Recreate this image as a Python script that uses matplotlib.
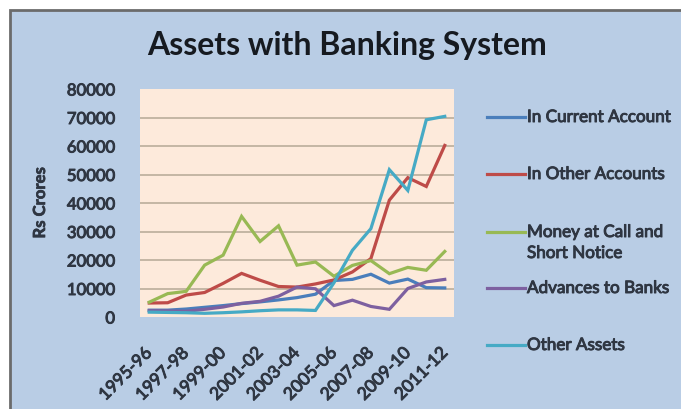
import matplotlib
matplotlib.use("Agg")
import matplotlib.pyplot as plt
from matplotlib.lines import Line2D
from matplotlib.patches import Rectangle
import matplotlib.patheffects as pe

plt.rcParams['font.family'] = ['Lato', 'DejaVu Sans']

# Fiscal years and the five asset series (Rs crores)
years = ["1995-96", "1996-97", "1997-98", "1998-99", "1999-00", "2000-01",
         "2001-02", "2002-03", "2003-04", "2004-05", "2005-06", "2006-07",
         "2007-08", "2008-09", "2009-10", "2010-11", "2011-12"]

in_current_account = [2400, 2400, 2800, 3400, 4000, 4700, 5300, 6000, 6800,
                      8000, 12800, 13200, 15000, 11900, 13300, 10300, 10200]
in_other_accounts = [4900, 5000, 7700, 8600, 11800, 15300, 12900, 10700, 10500,
                     11600, 13000, 15800, 20500, 41000, 48900, 45800, 60200]
money_at_call = [5200, 8200, 9000, 18200, 21700, 35300, 26500, 32000, 18200,
                 19300, 14300, 18100, 19800, 15200, 17400, 16400, 23000]
advances_to_banks = [2200, 2100, 2000, 2700, 3500, 4800, 5500, 7300, 10500,
                     9900, 4000, 5900, 3700, 2700, 10000, 12300, 13200]
other_assets = [1700, 1600, 1500, 1300, 1500, 1800, 2200, 2500, 2500,
                2300, 12000, 23400, 31000, 51700, 44400, 69200, 70400]

series_labels = ["In Current Account", "In Other Accounts",
                 "Money at Call and\nShort Notice", "Advances to Banks",
                 "Other Assets"]
series_values = [in_current_account, in_other_accounts, money_at_call,
                 advances_to_banks, other_assets]
series_colors = ["#4a7ebb", "#be4b48", "#98b954", "#7d60a0", "#46aac5"]

y_ticks = [0, 10000, 20000, 30000, 40000, 50000, 60000, 70000, 80000]

W, H = 681, 409
fig = plt.figure(figsize=(W / 100, H / 100), dpi=100)
fig.patch.set_facecolor("white")

# chart frame: light blue panel with a dark edge on the top and left
fig.add_artist(Rectangle((10 / W, -0.1), 1.2, 1.1 - 10 / H,
                         transform=fig.transFigure, facecolor="#b9cde5",
                         edgecolor="#6b6b6b", linewidth=2.0, zorder=0))

ax = fig.add_axes([140 / W, 1 - 317 / H, (454 - 140) / W, (317 - 89) / H])
ax.set_facecolor("#fdeadb")
for s in ax.spines.values():
    s.set_visible(False)

x = list(range(len(years)))
for vals, col in zip(series_values, series_colors):
    ax.plot(x, vals, color=col, linewidth=2.3, solid_joinstyle="miter",
            zorder=3)

ax.set_xlim(-0.5, len(years) - 0.5)
ax.set_ylim(y_ticks[0], y_ticks[-1])
ax.set_yticks(y_ticks)
ax.set_yticklabels([str(t) for t in y_ticks])
ax.yaxis.grid(True, color="#c4b6a4", linewidth=1.4, zorder=1)
ax.set_axisbelow(True)
gl = ax.get_ygridlines()
gl[0].set_visible(False)
gl[-1].set_visible(False)

tick_color = "#2f3642"
heavy = [pe.withStroke(linewidth=0.7, foreground=tick_color)]

ax.tick_params(axis="y", length=0, pad=18, labelsize=12, labelcolor=tick_color)
ax.set_xticks(x[::2])
ax.set_xticklabels(years[::2], rotation=45, ha="right", va="center",
                   rotation_mode="anchor")
ax.tick_params(axis="x", length=0, pad=24, labelsize=12.5, labelcolor=tick_color)
for lbl in ax.get_xticklabels() + ax.get_yticklabels():
    lbl.set_path_effects(heavy)

ax.set_ylabel("Rs Crores", fontsize=12, fontweight="bold", color=tick_color,
              path_effects=[pe.withStroke(linewidth=0.5, foreground=tick_color)])
ax.yaxis.set_label_coords((48 - 140) / (454 - 140), 0.5)

fig.text(347 / W, 1 - 45 / H, "Assets with Banking System", ha="center",
         va="center", fontsize=23, fontweight="bold", color="#161a20")

# legend drawn at fixed rows on the right
legend_rows = [117, 174, 232, 288, 345]
for lab, col, yy in zip(series_labels, series_colors, legend_rows):
    fig.add_artist(Line2D([487 / W, 525 / W], [1 - yy / H, 1 - yy / H],
                          transform=fig.transFigure, color=col, linewidth=2.3))
    for k, part in enumerate(lab.split("\n")):
        fig.text(527 / W, 1 - (yy + 21 * k) / H, part, ha="left",
                 va="center", fontsize=12.3, color=tick_color,
                 path_effects=heavy)

fig.savefig("out.png", dpi=100)
